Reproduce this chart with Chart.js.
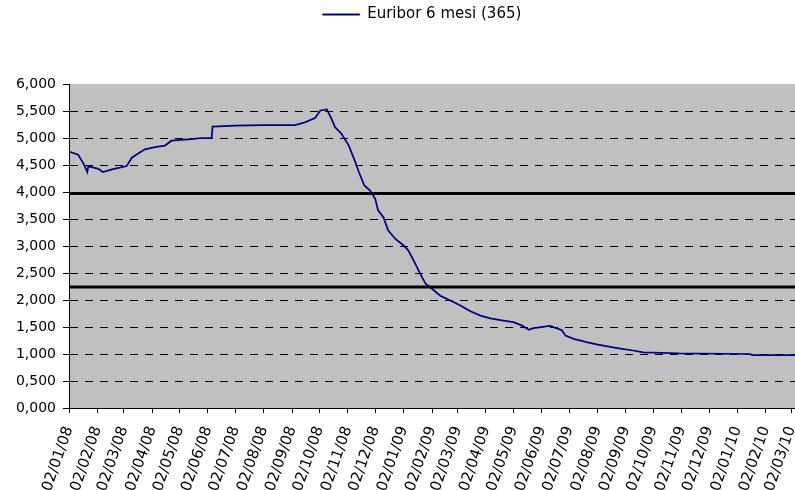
<!DOCTYPE html>
<html><head><meta charset="utf-8">
<script src="https://cdn.jsdelivr.net/npm/chart.js@4"></script>
<style>html,body{margin:0;padding:0;background:#fff}</style>
</head><body>
<canvas id="c" width="795" height="490"></canvas>
<script>
const seriesName = 'Euribor 6 mesi (365)';
const dates = ['2008-01-02','2008-01-12','2008-01-18','2008-01-22','2008-01-23','2008-01-27','2008-02-03','2008-02-08','2008-02-18','2008-02-29',
'2008-03-05','2008-03-11','2008-03-25','2008-04-05','2008-04-16','2008-04-23','2008-05-15','2008-05-26','2008-06-06','2008-06-07',
'2008-07-02','2008-08-01','2008-09-05','2008-09-16','2008-09-27','2008-10-03','2008-10-10','2008-10-15','2008-10-19','2008-10-26',
'2008-11-03','2008-11-10','2008-11-14','2008-11-20','2008-11-26','2008-12-02','2008-12-05','2008-12-11','2008-12-16','2008-12-24',
'2009-01-02','2009-01-07','2009-01-13','2009-01-20','2009-01-26','2009-02-04','2009-02-11','2009-02-22','2009-03-05','2009-03-16',
'2009-03-27','2009-04-07','2009-04-21','2009-05-02','2009-05-11','2009-05-19','2009-05-24','2009-06-11','2009-06-18','2009-06-24',
'2009-06-28','2009-07-07','2009-07-21','2009-08-01','2009-08-16','2009-08-27','2009-09-10','2009-09-21','2009-10-30','2010-01-16',
'2010-01-18','2010-03-06'];
const values = [4.75,4.69,4.52,4.37,4.47,4.46,4.43,4.37,4.42,4.46,
4.48,4.64,4.79,4.83,4.86,4.95,4.98,5.00,5.00,5.21,
5.23,5.24,5.24,5.29,5.37,5.51,5.53,5.36,5.20,5.08,
4.86,4.56,4.37,4.12,4.03,3.87,3.66,3.53,3.29,3.13,
3.01,2.92,2.73,2.49,2.30,2.18,2.08,1.99,1.90,1.79,
1.71,1.66,1.62,1.59,1.53,1.45,1.48,1.52,1.48,1.44,
1.34,1.28,1.22,1.18,1.13,1.10,1.065,1.03,1.01,1.00,
0.98,0.98];
const tickLabels = ['02/01/08','02/02/08','02/03/08','02/04/08','02/05/08','02/06/08','02/07/08','02/08/08','02/09/08','02/10/08','02/11/08','02/12/08',
'02/01/09','02/02/09','02/03/09','02/04/09','02/05/09','02/06/09','02/07/09','02/08/09','02/09/09','02/10/09','02/11/09','02/12/09',
'02/01/10','02/02/10','02/03/10'];
const thresholdValues = [3.97, 2.24];
const axisStart = '2008-01-02';
const axisEnd = '2010-03-06';

const base = Date.UTC(2008, 0, 2);
function dayIso(s){ const [y,m,d] = s.split('-').map(Number); return (Date.UTC(y,m-1,d)-base)/86400000; }
function dayLabel(s){ const [d,m,y] = s.split('/').map(Number); return (Date.UTC(2000+y,m-1,d)-base)/86400000; }
const tickDays = tickLabels.map(dayLabel);
const xMin = dayIso(axisStart), xMax = dayIso(axisEnd);

const FONT = {family:'"DejaVu Sans", sans-serif', size:14};

const legendSpace = {id:'legendSpace', afterInit(chart){
  const lg = chart.legend; const f = lg.fit; const d = lg.draw;
  lg.fit = function(){ f.call(this); this.height = 84; };
  lg.draw = function(a){ const c = this.ctx; c.save(); c.translate(-10, 0); d.call(this, a); c.restore(); };
}};
const plotBg = {id:'plotBg', beforeDraw(chart){
  const {ctx, chartArea:a} = chart; ctx.save();
  ctx.fillStyle = '#fff'; ctx.fillRect(0,0,chart.width,chart.height);
  ctx.fillStyle = '#c0c0c0'; ctx.fillRect(a.left,a.top,a.right-a.left,a.bottom-a.top);
  ctx.restore();
}};

const datasets = thresholdValues.map(t => ({
  label: 'soglia', data:[{x:xMin,y:t},{x:xMax,y:t}], borderColor:'#000', borderWidth:3,
  pointRadius:0, order:0
}));
datasets.push({label: seriesName, data: dates.map((d,i)=>({x:dayIso(d), y:values[i]})),
  borderColor:'#000080', backgroundColor:'#000080', borderWidth:1.75, pointRadius:0, tension:0, order:1});

new Chart(document.getElementById('c'), {
  type:'line',
  data:{datasets},
  options:{
    responsive:false, animation:false,
    layout:{padding:0},
    plugins:{
      tooltip:{enabled:false},
      legend:{position:'top', fullSize:false,
        labels:{font:{family:'"DejaVu Sans", sans-serif', size:15}, color:'#000', padding:7, boxWidth:37, boxHeight:1,
          generateLabels: () => [{text:seriesName, fillStyle:'#000080', strokeStyle:'#000080', lineWidth:1, hidden:false, datasetIndex:datasets.length-1, fontColor:'#000'}]}
      }
    },
    scales:{
      x:{type:'linear', min:xMin, max:xMax,
        afterBuildTicks: s => { s.ticks = tickDays.map(v=>({value:v})); },
        afterFit: s => { s.height = 82; s.paddingLeft = 0; s.paddingRight = 0; },
        ticks:{autoSkip:false, minRotation:71, maxRotation:71, font:{family:'"DejaVu Sans", sans-serif', size:15}, color:'#000', padding:11,
          callback: v => { const i = tickDays.indexOf(v); return i>=0 ? tickLabels[i] : ''; }},
        grid:{drawOnChartArea:false, tickLength:5, tickColor:'#000', color:'#000'},
        border:{color:'#000', width:1}
      },
      y:{min:0, max:6,
        afterFit: s => { s.width = 69; },
        ticks:{stepSize:0.5, font:FONT, color:'#000', padding:7,
          callback: v => v.toFixed(3).replace('.', ',')},
        grid:{color: c => (c.tick && c.tick.value === 6) ? 'rgba(0,0,0,0)' : '#000', tickColor:'#000', tickLength:6},
        border:{color:'#000', width:1, dash:[8,7]}
      }
    }
  },
  plugins:[legendSpace, plotBg]
});
</script>
</body></html>
